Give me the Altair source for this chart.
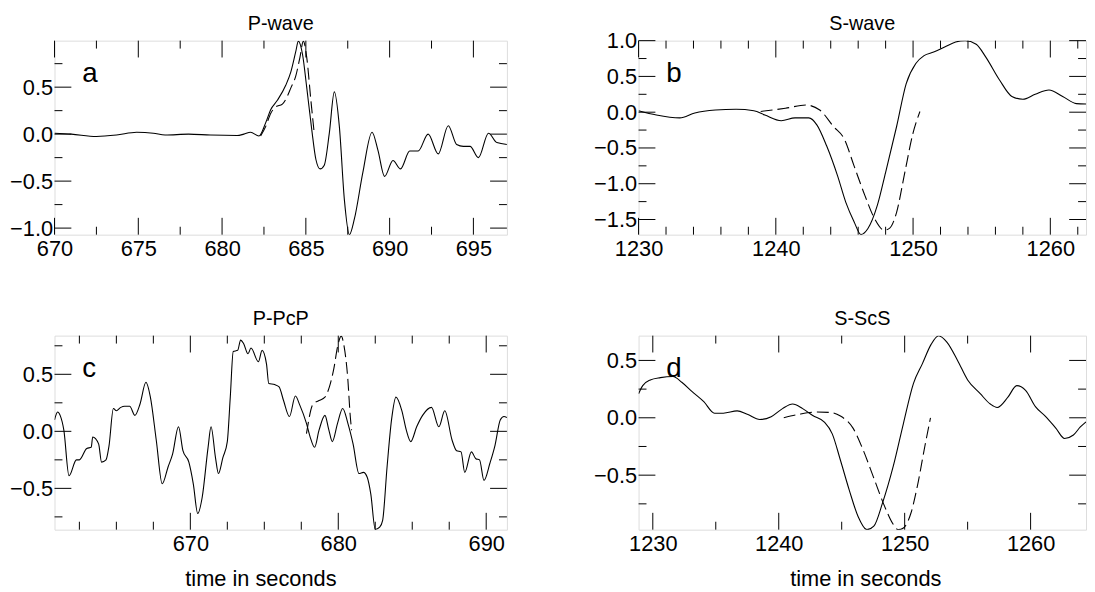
import altair as alt
import pandas as pd

FONT = "Liberation Sans"

# ---------------- Panel a : P-wave ----------------
A_SOLID_T = [670.0, 671.0, 672.5, 673.7, 674.9, 675.9, 676.6, 678.0, 679.3, 680.9, 681.3, 681.7, 682.2,
             682.6, 682.9, 683.3, 683.8, 684.1, 684.4, 684.55, 684.8, 685.05, 685.35, 685.6, 685.85,
             686.1, 686.4, 686.7, 687.0, 687.3, 687.6, 687.9, 688.4, 688.95, 689.3, 689.7, 690.2,
             690.65, 691.2, 691.7, 692.3, 692.9, 693.5, 694.0, 694.4, 694.8, 695.3, 695.9, 696.4, 697.0]
A_SOLID_V = [0.01, 0.0, -0.025, -0.01, 0.02, 0.01, -0.01, 0.0, -0.01, -0.015, 0.0, 0.02, -0.02,
             0.12, 0.26, 0.36, 0.52, 0.66, 0.88, 0.99, 0.85, 0.5, 0.05, -0.27, -0.37,
             -0.33, 0.01, 0.45, 0.08, -0.7, -1.07, -0.9, -0.41, 0.02, -0.17, -0.45, -0.28,
             -0.37, -0.18, -0.18, 0.0, -0.21, 0.09, -0.11, -0.13, -0.13, -0.25, 0.01, -0.09, -0.11]
A_DASH_T = [682.3, 682.6, 682.9, 683.2, 683.6, 683.8, 684.1, 684.4, 684.65, 684.85, 685.05, 685.3, 685.5]
A_DASH_V = [-0.02, 0.08, 0.22, 0.29, 0.32, 0.37, 0.49, 0.62, 0.82, 0.99, 0.82, 0.36, 0.01]

# ---------------- Panel b : S-wave ----------------
B_SOLID_T = [1230.0, 1231.3, 1233.0, 1234.1, 1235.6, 1237.1, 1238.4, 1239.2, 1240.4, 1241.4, 1242.4,
             1243.0, 1243.7, 1244.5, 1245.1, 1245.7, 1246.2, 1246.7, 1247.4, 1248.0, 1248.8, 1249.5,
             1250.2, 1250.8, 1251.5, 1252.3, 1253.1, 1253.8, 1254.6, 1255.3, 1256.3, 1257.2, 1258.0,
             1258.9, 1259.9, 1260.9, 1261.9, 1262.6]
B_SOLID_V = [0.02, -0.04, -0.08, -0.01, 0.03, 0.04, 0.02, -0.04, -0.12, -0.08, -0.08,
             -0.18, -0.47, -0.89, -1.26, -1.53, -1.71, -1.63, -1.30, -0.84, -0.20, 0.40,
             0.68, 0.79, 0.84, 0.91, 0.98, 1.0, 0.95, 0.77, 0.45, 0.22, 0.18,
             0.25, 0.31, 0.22, 0.12, 0.115]
B_DASH_T = [1238.9, 1240.7, 1242.2, 1243.2, 1244.2, 1245.0, 1245.7, 1246.5, 1247.2, 1247.9, 1248.3,
            1248.8, 1249.4, 1250.0, 1250.5]
B_DASH_V = [0.01, 0.055, 0.10, 0.03, -0.20, -0.38, -0.75, -1.17, -1.49, -1.65, -1.62,
            -1.40, -0.84, -0.29, 0.01]

# ---------------- Panel c : P-PcP ----------------
C_SOLID_T = [660.82, 661.03, 661.2, 661.45, 661.8, 662.3, 662.5, 663.0, 663.3, 663.4, 663.8, 664.0,
             664.3, 664.5, 664.8, 665.0, 665.3, 665.55, 665.9, 666.25, 666.6, 667.0, 667.3, 667.7,
             668.1, 668.5, 668.8, 669.2, 669.5, 669.9, 670.2, 670.5, 670.8, 671.2, 671.4, 671.7,
             671.9, 672.2, 672.5, 672.7, 672.9, 673.2, 673.4, 673.6, 673.9, 674.1, 674.6, 674.85,
             675.15, 675.3, 675.7, 676.0, 676.3, 676.7, 677.1, 677.4, 677.85, 678.1, 678.4, 678.7,
             679.1, 679.35, 679.6, 679.95, 680.3, 680.65, 681.0, 681.4, 681.7, 681.95, 682.2, 682.5,
             682.8, 683.0, 683.3, 683.6, 683.9, 684.3, 684.6, 684.9, 685.3, 685.7, 686.3, 686.8,
             687.2, 687.7, 688.0, 688.3, 688.55, 689.0, 689.3, 689.55, 689.85, 690.25, 690.6,
             690.95, 691.2, 691.4]
C_SOLID_V = [0.10, 0.17, 0.14, 0.01, -0.39, -0.25, -0.25, -0.15, -0.14, -0.05, -0.11, -0.27,
             -0.25, -0.13, 0.20, 0.18, 0.21, 0.22, 0.22, 0.14, 0.24, 0.43, 0.30, -0.08,
             -0.46, -0.31, -0.20, 0.04, -0.17, -0.27, -0.46, -0.72, -0.58, -0.14, 0.04, -0.23,
             -0.37, -0.23, -0.09, 0.30, 0.70, 0.71, 0.80, 0.77, 0.68, 0.73, 0.61, 0.71,
             0.59, 0.42, 0.41, 0.39, 0.27, 0.13, 0.31, 0.23, 0.07, -0.05, -0.14, 0.01,
             0.14, 0.02, -0.09, 0.07, 0.20, 0.07, -0.11, -0.37, -0.36, -0.40, -0.55, -0.86,
             -0.84, -0.78, -0.31, 0.10, 0.30, 0.18, 0.01, -0.09, 0.04, 0.14, 0.21, 0.04,
             0.18, -0.08, -0.17, -0.18, -0.36, -0.18, -0.24, -0.25, -0.43, -0.28, -0.12,
             0.10, 0.13, 0.12]
C_DASH_T = [677.85, 678.3, 678.7, 679.1, 679.4, 679.7, 679.95, 680.2, 680.4, 680.65, 680.8, 680.9]
C_DASH_V = [-0.02, 0.24, 0.27, 0.30, 0.39, 0.55, 0.74, 0.835, 0.74, 0.45, 0.15, 0.01]

# ---------------- Panel d : S-ScS ----------------
D_SOLID_T = [1228.87, 1229.2, 1229.8, 1230.6, 1231.6, 1232.3, 1233.1, 1234.05, 1234.9, 1235.6, 1236.7,
             1237.5, 1238.5, 1239.4, 1240.3, 1241.1, 1241.9, 1242.7, 1243.6, 1244.25, 1244.9, 1245.6,
             1246.3, 1247.0, 1247.55, 1248.25, 1249.1, 1249.9, 1250.7, 1251.4, 1252.1, 1252.7,
             1253.35, 1254.2, 1255.0, 1256.0, 1256.8, 1257.35, 1258.2, 1258.9, 1259.6, 1260.4,
             1261.2, 1262.0, 1262.7, 1263.4, 1263.95, 1264.4]
D_SOLID_V = [0.21, 0.28, 0.33, 0.35, 0.36, 0.31, 0.23, 0.14, 0.04, 0.04, 0.06,
             0.03, -0.015, 0.01, 0.08, 0.12, 0.08, 0.02, -0.035, -0.14, -0.37, -0.63,
             -0.86, -0.975, -0.945, -0.74, -0.42, -0.05, 0.30, 0.47, 0.64, 0.715,
             0.66, 0.50, 0.33, 0.21, 0.12, 0.09, 0.18, 0.28, 0.24, 0.095,
             0.01, -0.09, -0.18, -0.15, -0.08, -0.035]
D_DASH_T = [1240.4, 1241.6, 1243.0, 1244.1, 1244.9, 1245.9, 1246.7, 1247.6, 1248.4, 1249.1, 1249.5,
            1249.9, 1250.5, 1251.0, 1251.6, 1252.05]
D_DASH_V = [0.0, 0.03, 0.05, 0.046, 0.015, -0.09, -0.28, -0.54, -0.77, -0.93, -0.975,
            -0.96, -0.83, -0.60, -0.25, 0.0]

# ---------------- axis ranges and ticks ----------------
A_XDOM, A_YDOM = [670, 697], [-1.07, 0.995]
B_XDOM, B_YDOM = [1230, 1262.6], [-1.712, 1.0]
C_XDOM, C_YDOM = [660.82, 691.4], [-0.862, 0.839]
D_XDOM, D_YDOM = [1228.87, 1264.4], [-0.975, 0.716]

A_XMAJ, A_XMIN = [670, 675, 680, 685, 690, 695], [672.5, 677.5, 682.5, 687.5, 692.5]
B_XMAJ, B_XMIN = [1230, 1240, 1250, 1260], [1232, 1234, 1236, 1238, 1242, 1244, 1246, 1248,
                                             1252, 1254, 1256, 1258, 1262]
C_XMAJ, C_XMIN = [670, 680, 690], [662.5, 665, 667.5, 672.5, 675, 677.5, 682.5, 685, 687.5]
D_XMAJ, D_XMIN = [1230, 1240, 1250, 1260], [1235, 1245, 1255]

A_YMAJ, A_YMIN = [-1.0, -0.5, 0.0, 0.5], [-0.75, -0.25, 0.25, 0.75]
B_YMAJ, B_YMIN = [-1.5, -1.0, -0.5, 0.0, 0.5, 1.0], [-1.25, -0.75, -0.25, 0.25, 0.75]
C_YMAJ, C_YMIN = [-0.5, 0.0, 0.5], [-0.75, -0.25, 0.25, 0.75]
D_YMAJ, D_YMIN = [-0.5, 0.0, 0.5], [-0.75, -0.25, 0.25]

TITLES = ["P-wave", "S-wave", "P-PcP", "S-ScS"]
LETTERS = ["a", "b", "c", "d"]
XTITLE = "time in seconds"

H = 196
MAJ, MIN = 17, 8
YEXT = 46   # fixed width reserved for the y labels
XEXT = 26   # fixed height reserved for the x labels of the upper row


def panel(title, letter, st, sv, dt, dv, xdom, ydom, xmaj, xmin, ymaj, ymin, width,
          xtitle=None, title_x=None):
    xs = alt.Scale(domain=xdom, nice=False, zero=False)
    ys = alt.Scale(domain=ydom, nice=False, zero=False)
    xkw = dict(values=xmaj, ticks=False, tickSize=0, domain=False, grid=False, format="d",
               labelFont=FONT, labelFontSize=22, labelColor="black", labelPadding=4,
               labelFlush=False, labelOverlap=False)
    if xtitle:
        xkw.update(title=xtitle, titleFont=FONT, titleFontSize=22, titleFontWeight="normal",
                   titleColor="black", titlePadding=14)
        if title_x is not None:
            xkw["titleX"] = title_x
    else:
        xkw.update(title=None, minExtent=XEXT, maxExtent=XEXT)
    xaxis = alt.Axis(**xkw)
    yaxis = alt.Axis(values=ymaj, ticks=False, tickSize=0, domain=False, grid=False, format=".1f",
                     labelFont=FONT, labelFontSize=22, labelColor="black", labelPadding=2,
                     labelFlush=False, labelOverlap=False, title=None,
                     minExtent=YEXT, maxExtent=YEXT)
    X = lambda f: alt.X(f + ":Q", scale=xs, axis=xaxis)
    Y = lambda f: alt.Y(f + ":Q", scale=ys, axis=yaxis)

    solid = alt.Chart(pd.DataFrame({"t": st, "v": sv})).mark_line(
        color="black", strokeWidth=1.1, interpolate="monotone", clip=True
    ).encode(x=X("t"), y=Y("v"))
    dashed = alt.Chart(pd.DataFrame({"t": dt, "v": dv})).mark_line(
        color="black", strokeWidth=1.1, interpolate="monotone", strokeDash=[12, 5], clip=True
    ).encode(x=X("t"), y=Y("v"))

    layers = [solid, dashed]
    for vals, ln in ((xmaj, MAJ), (xmin, MIN)):
        df = pd.DataFrame({"t": vals})
        base = alt.Chart(df).mark_rule(color="black", strokeWidth=1)
        layers.append(base.encode(x=X("t"), y=alt.value(H), y2=alt.value(H - ln)))
        layers.append(base.encode(x=X("t"), y=alt.value(0), y2=alt.value(ln)))
    for vals, ln in ((ymaj, MAJ), (ymin, MIN)):
        df = pd.DataFrame({"v": vals})
        base = alt.Chart(df).mark_rule(color="black", strokeWidth=1)
        layers.append(base.encode(y=Y("v"), x=alt.value(0), x2=alt.value(ln)))
        layers.append(base.encode(y=Y("v"), x=alt.value(width), x2=alt.value(width - ln)))
    lab = alt.Chart(pd.DataFrame({"label": [letter]})).mark_text(
        font=FONT, fontSize=28, align="left", baseline="alphabetic", color="black"
    ).encode(text="label:N", x=alt.value(28), y=alt.value(42))
    ttl = alt.Chart(pd.DataFrame({"label": [title]})).mark_text(
        font=FONT, fontSize=20, align="center", baseline="alphabetic", color="black"
    ).encode(text="label:N", x=alt.value(width / 2), y=alt.value(-11))
    layers += [lab, ttl]

    return alt.layer(*layers).properties(width=width, height=H)


pa = panel(TITLES[0], LETTERS[0], A_SOLID_T, A_SOLID_V, A_DASH_T, A_DASH_V, A_XDOM, A_YDOM,
           A_XMAJ, A_XMIN, A_YMAJ, A_YMIN, 457)
pb = panel(TITLES[1], LETTERS[1], B_SOLID_T, B_SOLID_V, B_DASH_T, B_DASH_V, B_XDOM, B_YDOM,
           B_XMAJ, B_XMIN, B_YMAJ, B_YMIN, 452)
pc = panel(TITLES[2], LETTERS[2], C_SOLID_T, C_SOLID_V, C_DASH_T, C_DASH_V, C_XDOM, C_YDOM,
           C_XMAJ, C_XMIN, C_YMAJ, C_YMIN, 457, XTITLE, 208)
pd_ = panel(TITLES[3], LETTERS[3], D_SOLID_T, D_SOLID_V, D_DASH_T, D_DASH_V, D_XDOM, D_YDOM,
            D_XMAJ, D_XMIN, D_YMAJ, D_YMIN, 452, XTITLE, 229)

row1 = alt.hconcat(pa, pb, spacing=85)
row2 = alt.hconcat(pc, pd_, spacing=85)
chart = alt.vconcat(row1, row2, spacing=47).properties(
    padding={"left": 0, "top": 2, "right": 0, "bottom": 0}
).configure_view(stroke="black", strokeWidth=1).configure(background="white")

chart.save("out.html", embed_options={"renderer": "svg", "actions": False})
